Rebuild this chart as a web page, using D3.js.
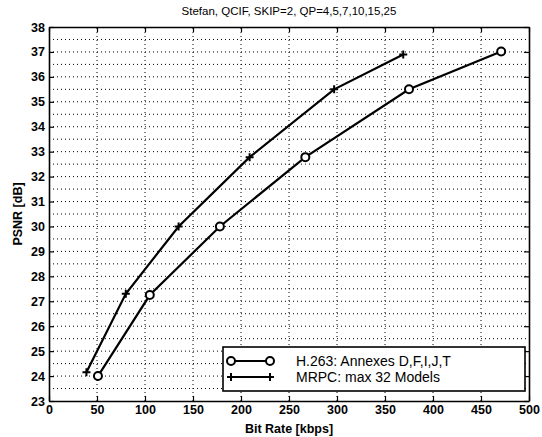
<!DOCTYPE html>
<html>
<head>
<meta charset="utf-8">
<script src="https://cdn.jsdelivr.net/npm/d3@7"></script>
<style>
  body { margin: 0; background: #fff; }
  text { font-family: "Liberation Sans", Arial, sans-serif; fill: #000; }
</style>
</head>
<body>
<div id="chart"></div>
<script>
// values
var titleText = "Stefan, QCIF, SKIP=2, QP=4,5,7,10,15,25";
var h263Rate = [51, 105, 178, 267, 375, 471];
var h263Psnr = [24.0, 27.25, 30.0, 32.78, 35.5, 37.02];
var mrpcRate = [39, 80, 135, 209, 297, 369];
var mrpcPsnr = [24.15, 27.3, 30.0, 32.78, 35.5, 36.9];
var seriesNames = ["H.263: Annexes D,F,I,J,T", "MRPC: max 32 Models"];
var xTicks = [0, 50, 100, 150, 200, 250, 300, 350, 400, 450, 500];
var yTicks = [23, 24, 25, 26, 27, 28, 29, 30, 31, 32, 33, 34, 35, 36, 37, 38];
var yGrid = d3.range(23.5, 38, 0.5);

var width = 542, height = 437;
var margin = {top: 27, right: 13, bottom: 36, left: 49};

var svg = d3.select("#chart").append("svg")
  .attr("width", width)
  .attr("height", height);

var x = d3.scaleLinear().domain([0, 500]).range([margin.left, width - margin.right]);
var y = d3.scaleLinear().domain([23, 38]).range([height - margin.bottom, margin.top]);

// grid
svg.append("g").selectAll("line").data(yGrid).enter().append("line")
  .attr("x1", x(0)).attr("x2", x(500))
  .attr("y1", d => y(d)).attr("y2", d => y(d))
  .attr("stroke", "#000").attr("stroke-width", 1)
  .attr("stroke-dasharray", "1,3");
svg.append("g").selectAll("line").data(xTicks.slice(1, -1)).enter().append("line")
  .attr("x1", d => x(d)).attr("x2", d => x(d))
  .attr("y1", y(23)).attr("y2", y(38))
  .attr("stroke", "#000").attr("stroke-width", 1)
  .attr("stroke-dasharray", "1,3");

// axes (ticks inward, box on all sides)
var axB = svg.append("g").attr("transform", "translate(0," + y(23) + ")")
  .call(d3.axisBottom(x).tickValues(xTicks).tickSizeInner(-5).tickSizeOuter(0).tickPadding(4));
var axT = svg.append("g").attr("transform", "translate(0," + y(38) + ")")
  .call(d3.axisTop(x).tickValues(xTicks).tickSizeInner(-5).tickSizeOuter(0).tickFormat(""));
var axL = svg.append("g").attr("transform", "translate(" + x(0) + ",0)")
  .call(d3.axisLeft(y).tickValues(yTicks).tickSizeInner(-5).tickSizeOuter(0).tickPadding(4));
var axR = svg.append("g").attr("transform", "translate(" + x(500) + ",0)")
  .call(d3.axisRight(y).tickValues(yTicks).tickSizeInner(-5).tickSizeOuter(0).tickFormat(""));

[axB, axT, axL, axR].forEach(function(a) {
  a.select(".domain").attr("stroke", "#000").attr("stroke-width", 1.6);
  a.selectAll(".tick line").attr("stroke", "#000").attr("stroke-width", 1.2);
  a.selectAll("text").attr("font-size", 12.5).attr("font-weight", "bold")
    .style("font-family", "'Liberation Sans', Arial, sans-serif");
});

// lines
var line = d3.line().x(d => x(d[0])).y(d => y(d[1]));
var h263 = h263Rate.map((r, i) => [r, h263Psnr[i]]);
var mrpc = mrpcRate.map((r, i) => [r, mrpcPsnr[i]]);

svg.append("path").datum(h263).attr("d", line)
  .attr("fill", "none").attr("stroke", "#000").attr("stroke-width", 2.2);
svg.append("path").datum(mrpc).attr("d", line)
  .attr("fill", "none").attr("stroke", "#000").attr("stroke-width", 2.2);

function circleMark(g, cx, cy) {
  g.append("circle").attr("cx", cx).attr("cy", cy).attr("r", 4)
    .attr("fill", "#fff").attr("stroke", "#000").attr("stroke-width", 2);
}
function plusMark(g, cx, cy) {
  g.append("path").attr("d", "M" + (cx - 4) + "," + cy + "H" + (cx + 4) + "M" + cx + "," + (cy - 4) + "V" + (cy + 4))
    .attr("stroke", "#000").attr("stroke-width", 2);
}

var marks = svg.append("g");
h263.forEach(d => circleMark(marks, x(d[0]), y(d[1])));
mrpc.forEach(d => plusMark(marks, x(d[0]), y(d[1])));

// legend
var lg = svg.append("g");
lg.append("rect").attr("x", 223).attr("y", 347).attr("width", 302).attr("height", 44)
  .attr("fill", "#fff").attr("stroke", "#000").attr("stroke-width", 1.6);
var lgY = [361, 377];
lgY.forEach(function(ly, i) {
  lg.append("line").attr("x1", 231).attr("x2", 270).attr("y1", ly).attr("y2", ly)
    .attr("stroke", "#000").attr("stroke-width", 2.2);
  if (i === 0) { circleMark(lg, 231, ly); circleMark(lg, 270, ly); }
  else { plusMark(lg, 231, ly); plusMark(lg, 270, ly); }
  lg.append("text").attr("x", 296).attr("y", ly + 5)
    .attr("font-size", 14).text(seriesNames[i]);
});

// labels
svg.append("text").attr("x", (x(0) + x(500)) / 2).attr("y", 15)
  .attr("text-anchor", "middle").attr("font-size", 11.5).text(titleText);
svg.append("text").attr("x", (x(0) + x(500)) / 2).attr("y", 433)
  .attr("text-anchor", "middle").attr("font-size", 12.5).attr("font-weight", "bold").text("Bit Rate [kbps]");
svg.append("text").attr("transform", "translate(22," + ((y(23) + y(38)) / 2) + ") rotate(-90)")
  .attr("text-anchor", "middle").attr("font-size", 12.5).attr("font-weight", "bold").text("PSNR [dB]");
</script>
</body>
</html>
